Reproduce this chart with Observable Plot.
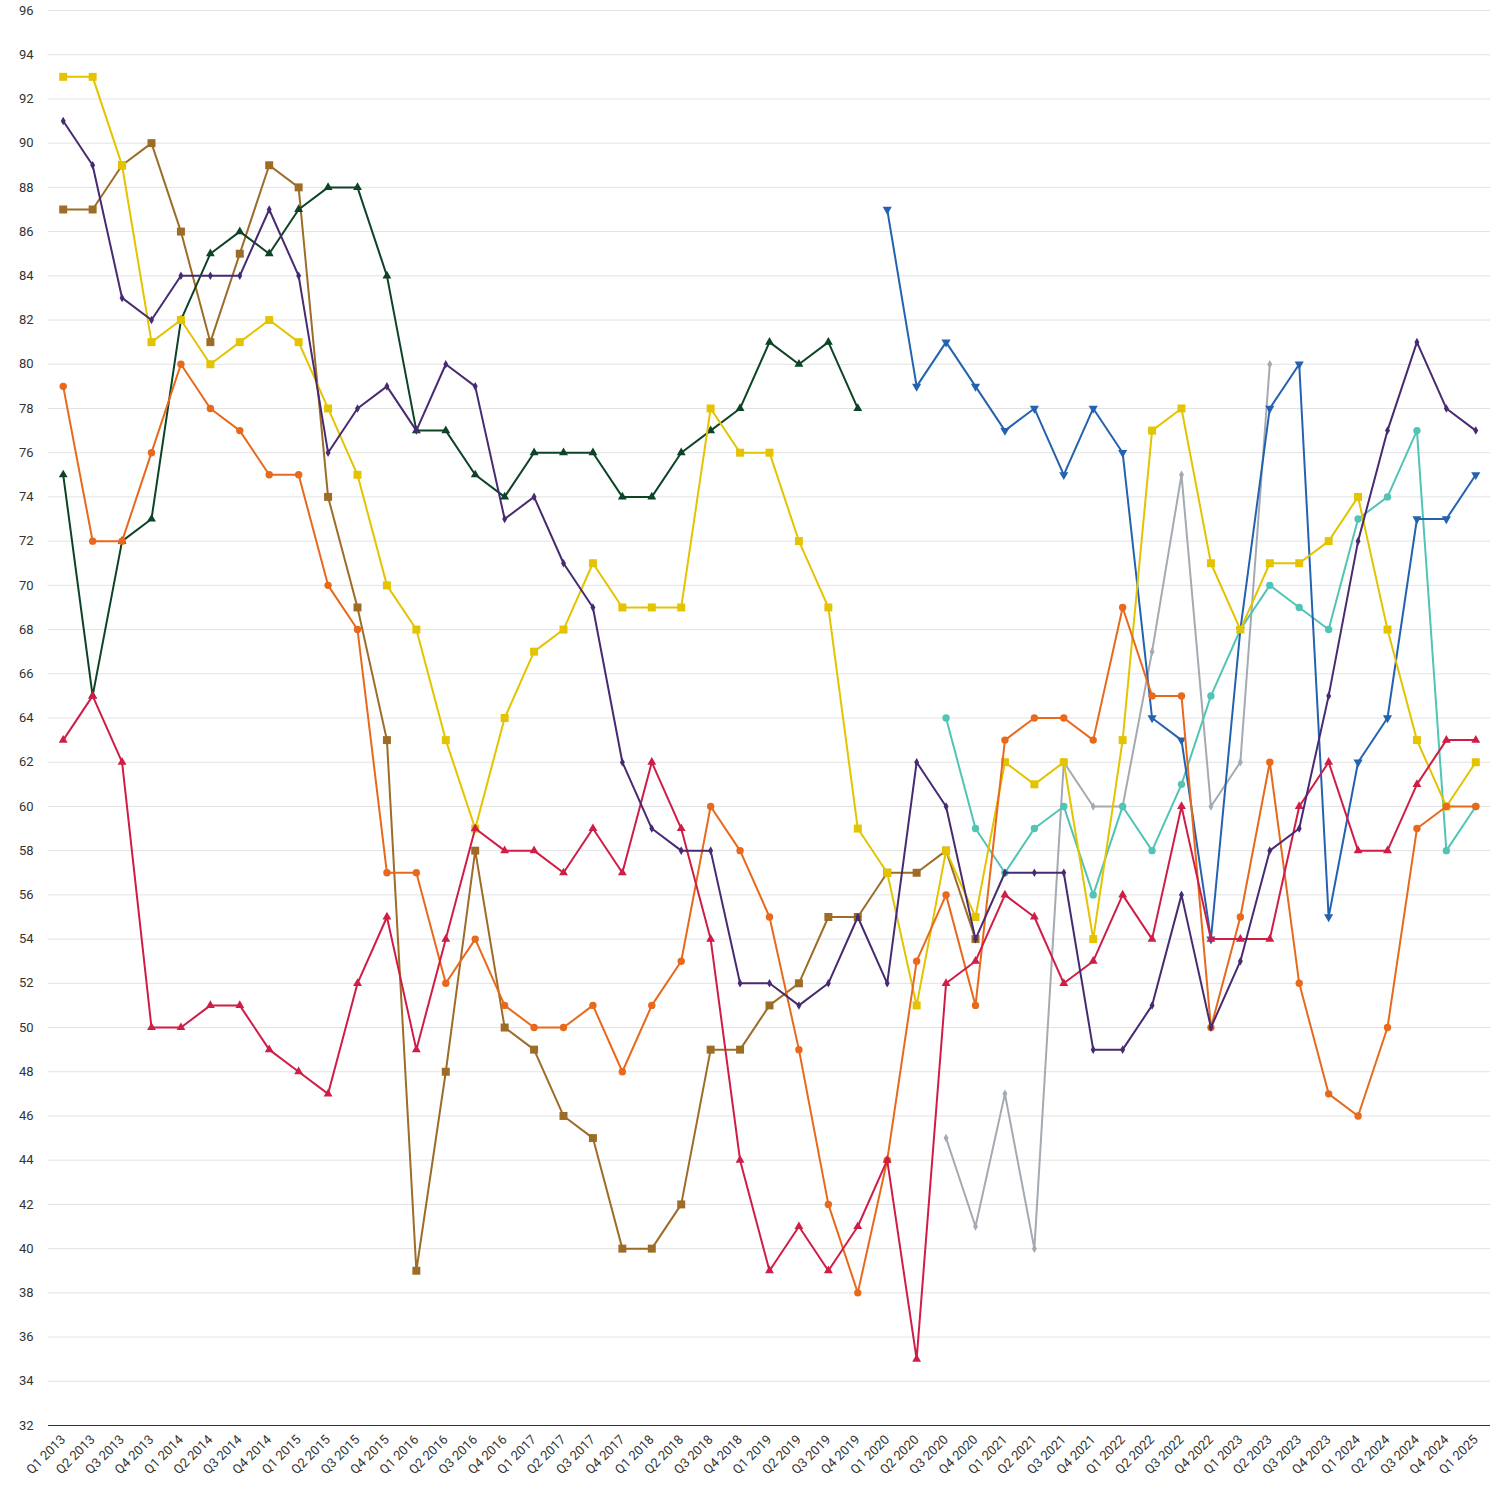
<!DOCTYPE html>
<html>
<head>
<meta charset="utf-8">
<script src="https://cdn.jsdelivr.net/npm/d3@7"></script>
<script src="https://cdn.jsdelivr.net/npm/@observablehq/plot@0.6"></script>
<style>
  html, body { margin: 0; padding: 0; background: #fff; }
  #chart svg { display: block; }
</style>
</head>
<body>
<div id="chart"></div>
<script>
const quarters = [
  "Q1 2013","Q2 2013","Q3 2013","Q4 2013",
  "Q1 2014","Q2 2014","Q3 2014","Q4 2014",
  "Q1 2015","Q2 2015","Q3 2015","Q4 2015",
  "Q1 2016","Q2 2016","Q3 2016","Q4 2016",
  "Q1 2017","Q2 2017","Q3 2017","Q4 2017",
  "Q1 2018","Q2 2018","Q3 2018","Q4 2018",
  "Q1 2019","Q2 2019","Q3 2019","Q4 2019",
  "Q1 2020","Q2 2020","Q3 2020","Q4 2020",
  "Q1 2021","Q2 2021","Q3 2021","Q4 2021",
  "Q1 2022","Q2 2022","Q3 2022","Q4 2022",
  "Q1 2023","Q2 2023","Q3 2023","Q4 2023",
  "Q1 2024","Q2 2024","Q3 2024","Q4 2024",
  "Q1 2025"
];

const yTicks = [32,34,36,38,40,42,44,46,48,50,52,54,56,58,60,62,64,66,68,70,72,74,76,78,80,82,84,86,88,90,92,94,96];

// Series values (null = no value for that quarter)
const purple = [91,89,83,82,84,84,84,87,84,76,78,79,77,80,79,73,74,71,69,62,59,58,58,52,52,51,52,55,52,62,60,54,57,57,57,49,49,51,56,50,53,58,59,65,72,77,81,78,77];
const yellow = [93,93,89,81,82,80,81,82,81,78,75,70,68,63,59,64,67,68,71,69,69,69,78,76,76,72,69,59,57,51,58,55,62,61,62,54,63,77,78,71,68,71,71,72,74,68,63,60,62];
const brown  = [87,87,89,90,86,81,85,89,88,74,69,63,39,48,58,50,49,46,45,40,40,42,49,49,51,52,55,55,57,57,58,54,null,null,null,null,null,null,null,null,null,null,null,null,null,null,null,null,null];
const green  = [75,65,72,73,82,85,86,85,87,88,88,84,77,77,75,74,76,76,76,74,74,76,77,78,81,80,81,78,null,null,null,null,null,null,null,null,null,null,null,null,null,null,null,null,null,null,null,null,null];
const orange = [79,72,72,76,80,78,77,75,75,70,68,57,57,52,54,51,50,50,51,48,51,53,60,58,55,49,42,38,44,53,56,51,63,64,64,63,69,65,65,50,55,62,52,47,46,50,59,60,60];
const red    = [63,65,62,50,50,51,51,49,48,47,52,55,49,54,59,58,58,57,59,57,62,59,54,44,39,41,39,41,44,35,52,53,56,55,52,53,56,54,60,54,54,54,60,62,58,58,61,63,63];
const blue   = [null,null,null,null,null,null,null,null,null,null,null,null,null,null,null,null,null,null,null,null,null,null,null,null,null,null,null,null,87,79,81,79,77,78,75,78,76,64,63,54,68,78,80,55,62,64,73,73,75];
const teal   = [null,null,null,null,null,null,null,null,null,null,null,null,null,null,null,null,null,null,null,null,null,null,null,null,null,null,null,null,null,null,64,59,57,59,60,56,60,58,61,65,68,70,69,68,73,74,77,58,60];
const gray   = [null,null,null,null,null,null,null,null,null,null,null,null,null,null,null,null,null,null,null,null,null,null,null,null,null,null,null,null,null,null,45,41,47,40,62,60,60,67,75,60,62,80,null,null,null,null,null,null,null];

const seriesNames  = ["gray","teal","blue","brown","green","yellow","orange","red","purple"];
const seriesValues = [gray, teal, blue, brown, green, yellow, orange, red, purple];
const seriesColors = ["#a3aab1","#52c4b5","#2462b0","#9d6c27","#0d4326","#e4c300","#e8691b","#cf1d47","#472a72"];

const triDown = {
  draw(ctx, size) {
    const s3 = Math.sqrt(3);
    const y = -Math.sqrt(size / (s3 * 3));
    ctx.moveTo(0, -y * 2);
    ctx.lineTo(-s3 * y, y);
    ctx.lineTo(s3 * y, y);
    ctx.closePath();
  }
};
const seriesSymbols = ["diamond","circle",triDown,"square","triangle","square","circle","triangle","diamond"];
const seriesR       = [2.6, 3.7, 3.4, 4.5, 3.3, 4.5, 3.7, 3.3, 2.6];

const marks = [
  Plot.ruleY(yTicks, {stroke: "#e2e2e2", strokeWidth: 1})
];

seriesNames.forEach((name, k) => {
  const rows = [];
  seriesValues[k].forEach((v, i) => { if (v != null) rows.push({q: quarters[i], v}); });
  marks.push(Plot.line(rows, {x: "q", y: "v", stroke: seriesColors[k], strokeWidth: 2}));
  marks.push(Plot.dot(rows, {x: "q", y: "v", fill: seriesColors[k], symbol: seriesSymbols[k], r: seriesR[k]}));
});

marks.push(Plot.ruleY([32], {stroke: "#333", strokeWidth: 1.2}));

const chart = Plot.plot({
  width: 1500,
  height: 1500,
  marginLeft: 48,
  marginRight: 10,
  marginTop: 10,
  marginBottom: 75,
  style: {fontFamily: "Roboto, sans-serif", fontSize: "13px", color: "#333", background: "#fff"},
  x: {type: "point", domain: quarters, padding: 0.5, round: false, tickSize: 0, tickRotate: -45, tickPadding: 12, label: null},
  y: {domain: [32, 96], ticks: yTicks, tickSize: 0, tickPadding: 15, label: null},
  marks
});
document.getElementById("chart").appendChild(chart);
</script>
</body>
</html>
